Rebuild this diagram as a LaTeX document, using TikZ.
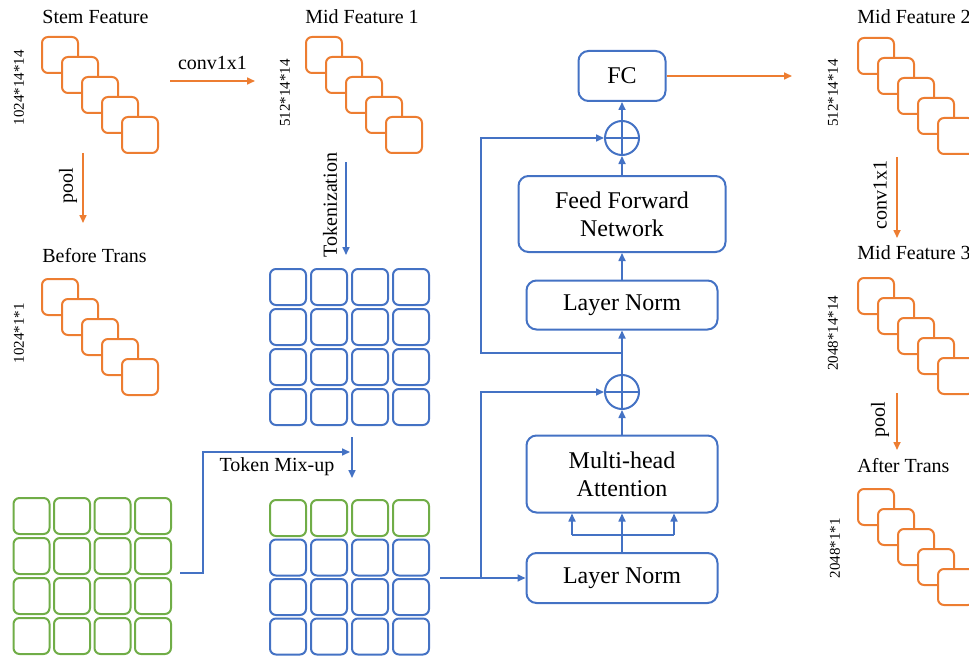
\documentclass[tikz,border=0pt]{standalone}
\usepackage{fontspec}
\setmainfont{Liberation Serif}
\usetikzlibrary{arrows.meta}
\definecolor{org}{RGB}{237, 125, 49}
\definecolor{blu}{RGB}{68, 114, 196}
\definecolor{grn}{RGB}{112, 173, 71}

\begin{document}
\begin{tikzpicture}[x=0.5pt, y=-0.5pt, font=\fontsize{10}{12}\selectfont,
        osq/.style={draw=org, fill=white, line width=1pt, rounded corners=3pt, inner sep=0, minimum width=18pt, minimum height=18pt},
        bsq/.style={draw=blu, line width=1pt, rounded corners=3pt, inner sep=0, minimum width=18pt, minimum height=18pt},
        gsq/.style={bsq, draw=grn},
        blk/.style={draw=blu, line width=1pt, rounded corners=5pt, font=\fontsize{12}{14}\selectfont, align=center, inner sep=0},
        plus/.style={draw=blu, line width=1pt, circle, inner sep=0, minimum size=17pt},
        ttl/.style={anchor=west, inner sep=0},
        dim/.style={rotate=90, font=\fontsize{7.5}{9}\selectfont},
        vlab/.style={rotate=90},
        oarr/.style={draw=org, line width=0.8pt, -{Triangle[length=4pt, width=3.5pt]}},
        barr/.style={draw=blu, line width=0.8pt, -{Triangle[length=4pt, width=3.5pt]}},
        bline/.style={draw=blu, line width=0.8pt}]
        \useasboundingbox (0, 0) rectangle (969, 658);
        \clip (0, 0) rectangle (969, 658);

        % feature stacks
        \foreach \i in {0,...,4} {
            \node[osq] (stem\i) at ({60+20*\i}, {55+20*\i}) {};
            \node[osq] (bef\i) at ({60+20*\i}, {297+20*\i}) {};
            \node[osq] (midA\i) at ({324+20*\i}, {55+20*\i}) {};
            \node[osq] (midB\i) at ({876+20*\i}, {56+20*\i}) {};
            \node[osq] (midC\i) at ({876+20*\i}, {296+20*\i}) {};
            \node[osq] (aft\i) at ({876+20*\i}, {507+20*\i}) {};
        }
        \node[ttl] (lstem) at (42, 17) {Stem Feature};
        \node[ttl] (lbef) at (42, 256) {Before Trans};
        \node[ttl] (lmidA) at (305, 17) {Mid Feature 1};
        \node[ttl] (lmidB) at (857, 17) {Mid Feature 2};
        \node[ttl] (lmidC) at (857, 253) {Mid Feature 3};
        \node[ttl] (laft) at (857, 466) {After Trans};
        \node[dim] (dstem) at (19, 88) {1024*14*14};
        \node[dim] (dbef) at (19, 333) {1024*1*1};
        \node[dim] (dmidA) at (285, 93) {512*14*14};
        \node[dim] (dmidB) at (833, 93) {512*14*14};
        \node[dim] (dmidC) at (833, 333) {2048*14*14};
        \node[dim] (daft) at (835, 548) {2048*1*1};

        % token grids
        \foreach \r in {0,...,3} {
            \foreach \c in {0,...,3} {
                \node[bsq] (tokA\r\c) at ({288+41*\c}, {287+40*\r}) {};
                \node[gsq] (tokG\r\c) at ({31.5+40.5*\c}, {516+40*\r}) {};
            }
        }
        \foreach \c in {0,...,3} {
            \node[gsq] (tokB0\c) at ({288+41*\c}, 518) {};
            \foreach \r in {1,2,3}
                \node[bsq] (tokB\r\c) at ({288+41*\c}, {518+39.5*\r}) {};
        }

        % transformer block
        \node[blk, minimum width=43.5pt, minimum height=25pt] (fc) at (622, 76) {FC};
        \node[plus] (addB) at (622, 138) {};
        \node[blk, minimum width=103.5pt, minimum height=38pt] (ffn) at (622, 214) {Feed Forward\\Network};
        \node[blk, minimum width=95.5pt, minimum height=24.5pt] (lnB) at (622, 305) {Layer Norm};
        \node[plus] (addA) at (622, 392) {};
        \node[blk, minimum width=95.5pt, minimum height=38.5pt] (mha) at (622, 474) {Multi-head\\Attention};
        \node[blk, minimum width=95.5pt, minimum height=25pt] (lnA) at (622, 578) {Layer Norm};
        \draw[bline] (addA.north) -- (addA.south) (addA.west) -- (addA.east);
        \draw[bline] (addB.north) -- (addB.south) (addB.west) -- (addB.east);

        % arrows
        \coordinate (c1a) at (170, 81);
        \coordinate (c1b) at (255, 81);
        \draw[oarr] (c1a) -- (c1b) node[midway, above=2pt] (lconv) {conv1x1};
        \coordinate (p1a) at (83, 153);
        \coordinate (p1b) at (83, 223);
        \draw[oarr] (p1a) -- (p1b);
        \node[vlab] (lpool) at (68, 186) {pool};
        \coordinate (tka) at (346, 162);
        \coordinate (tkb) at (346, 255);
        \draw[barr] (tka) -- (tkb);
        \node[vlab] (ltok) at (330, 205) {Tokenization};
        \coordinate (mxa) at (352, 437);
        \coordinate (mxb) at (352, 478);
        \draw[barr] (mxa) -- (mxb);
        \coordinate (gra) at (180, 573);
        \coordinate (grb) at (203, 573);
        \coordinate (grc) at (350, 452);
        \draw[barr] (gra) -- (grb) |- (grc);
        \node (lmix) at (277, 467) {Token Mix-up};
        \coordinate (ina) at (440, 578);
        \coordinate (kA) at (481, 578);
        \draw[barr] (ina) -- (lnA.west);
        \draw[barr] (kA) |- (addA.west);
        \draw[barr] (lnA.north) -- (mha.south);
        \coordinate (qa) at (572, 535);
        \coordinate (qb) at (674, 535);
        \draw[bline] (qa) -- (qb);
        \draw[barr] (qa) -- (qa |- mha.south);
        \draw[barr] (qb) -- (qb |- mha.south);
        \draw[barr] (mha.north) -- (addA.south);
        \draw[barr] (addA.north) -- (lnB.south);
        \coordinate (rB) at (622, 353);
        \coordinate (kB) at (481, 353);
        \draw[barr] (rB) -- (kB) |- (addB.west);
        \draw[barr] (lnB.north) -- (ffn.south);
        \draw[barr] (ffn.north) -- (addB.south);
        \draw[barr] (addB.north) -- (fc.south);
        \coordinate (fco) at (792, 76);
        \draw[oarr] (fc.east) -- (fco);
        \coordinate (c2a) at (897, 157);
        \coordinate (c2b) at (897, 238);
        \draw[oarr] (c2a) -- (c2b);
        \node[vlab] (lconvB) at (880, 195) {conv1x1};
        \coordinate (p2a) at (897, 393);
        \coordinate (p2b) at (897, 450);
        \draw[oarr] (p2a) -- (p2b);
        \node[vlab] (lpoolB) at (880, 420) {pool};
    \end{tikzpicture}
\end{document}
